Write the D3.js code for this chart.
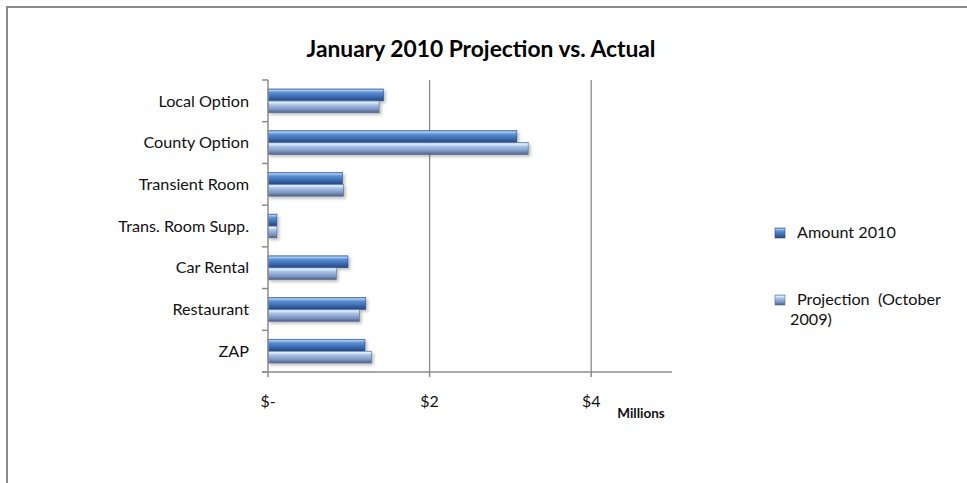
<!DOCTYPE html>
<html><head><meta charset="utf-8">
<script src="https://cdn.jsdelivr.net/npm/d3@7"></script>
<style>html,body{margin:0;padding:0;background:#fff;overflow:hidden}</style>
</head><body><svg id="c" width="967" height="483"></svg>
<script>
const categories = ["Local Option","County Option","Transient Room","Trans. Room Supp.","Car Rental","Restaurant","ZAP"];
const amount2010 = [1.43,3.08,0.92,0.11,0.99,1.21,1.20];
const projection = [1.375,3.22,0.935,0.11,0.845,1.13,1.28];
const seriesNames = ["Amount 2010","Projection  (October 2009)"];
const xTicks = [0,2,4];
const xTickLabels = ["$-","$2","$4"];

(function(){
const svg = d3.select("#c");
const font = "Lato, 'Open Sans', sans-serif";
const defs = svg.append("defs");
function grad(id, stops){
  const g = defs.append("linearGradient").attr("id",id).attr("x1",0).attr("y1",0).attr("x2",0).attr("y2",1);
  stops.forEach(s=>g.append("stop").attr("offset",s[0]).attr("stop-color",s[1]));
}
grad("gA",[[0,"#6d9ad6"],[0.12,"#a9c9f0"],[0.3,"#5c8fd4"],[0.65,"#3b6cb3"],[1,"#24467c"]]);
grad("gP",[[0,"#9fbce6"],[0.12,"#e2f0fd"],[0.32,"#a9c4ea"],[0.7,"#7f97c2"],[1,"#4e6188"]]);
const f = defs.append("filter").attr("id","sh").attr("x","-5%").attr("y","-30%").attr("width","115%").attr("height","180%");
f.append("feDropShadow").attr("dx",2).attr("dy",2).attr("stdDeviation",1.5).attr("flood-color","#000").attr("flood-opacity",0.25);

svg.append("rect").attr("x",7).attr("y",7).attr("width",1000).attr("height",520)
  .attr("fill","none").attr("stroke","#8a8a8a").attr("stroke-width",2);

const pL=268, pR=672, pT=80, pB=372;
const x = d3.scaleLinear().domain([0,5]).range([pL,pR]);
const y = d3.scaleBand().domain(categories).range([pT,pB]).paddingInner(0.43).paddingOuter(0.215);
const ySub = d3.scaleBand().domain([0,1]).range([0,y.bandwidth()]);

svg.append("text").attr("x",481).attr("y",57).attr("text-anchor","middle")
  .attr("font-family",font).attr("font-weight","bold").attr("font-size",22.8).attr("fill","#000")
  .text("January 2010 Projection vs. Actual");

svg.append("g").selectAll("line").data(xTicks.filter(d=>d>0)).join("line")
  .attr("x1",d=>x(d)).attr("x2",d=>x(d)).attr("y1",pT).attr("y2",pB)
  .attr("stroke","#8c8c8c").attr("stroke-width",1.3);

const data = categories.map((c,i)=>({c, v:[amount2010[i],projection[i]]}));
const gBars = svg.append("g").attr("filter","url(#sh)");
data.forEach(d=>{
  d.v.forEach((v,k)=>{
    gBars.append("rect").attr("x",x(0)).attr("y",y(d.c)+ySub(k))
      .attr("width",x(v)-x(0)).attr("height",ySub.bandwidth())
      .attr("fill",k===0?"url(#gA)":"url(#gP)")
      .attr("stroke",k===0?"#2a4f86":"#56698f").attr("stroke-width",0.6);
  });
});

const yAxis = svg.append("g").attr("transform",`translate(${pL},0)`);
yAxis.append("line").attr("x1",0).attr("x2",0).attr("y1",pT).attr("y2",pB).attr("stroke","#8c8c8c").attr("stroke-width",1.5);
const bounds = d3.range(categories.length+1).map(i=>pT+i*(pB-pT)/categories.length);
yAxis.selectAll("line.t").data(bounds).join("line").attr("class","t")
  .attr("x1",-6).attr("x2",0).attr("y1",d=>d).attr("y2",d=>d).attr("stroke","#8c8c8c").attr("stroke-width",1.5);
yAxis.selectAll("text").data(categories).join("text")
  .attr("x",-19).attr("y",c=>y(c)+y.bandwidth()/2).attr("dy","0.35em").attr("text-anchor","end")
  .attr("font-family",font).attr("font-size",16.2).attr("fill","#111").text(c=>c);

const xAxis = svg.append("g").attr("transform",`translate(0,${pB})`);
xAxis.append("line").attr("x1",pL-6).attr("x2",pR).attr("y1",0).attr("y2",0).attr("stroke","#8c8c8c").attr("stroke-width",1.5);
xAxis.selectAll("line.t").data(xTicks).join("line").attr("class","t")
  .attr("x1",d=>x(d)).attr("x2",d=>x(d)).attr("y1",0).attr("y2",5).attr("stroke","#8c8c8c").attr("stroke-width",1.5);
xAxis.selectAll("text").data(xTicks).join("text")
  .attr("x",d=>x(d)).attr("y",35).attr("text-anchor","middle")
  .attr("font-family",font).attr("font-size",16).attr("fill","#111").text((d,i)=>xTickLabels[i]);
svg.append("text").attr("x",641).attr("y",418).attr("text-anchor","middle")
  .attr("font-family",font).attr("font-weight","bold").attr("font-size",13.5).attr("fill","#111").text("Millions");

const lg = svg.append("g");
const lItems = [{y:233, g:"url(#gA)", s:"#2a4f86", lines:["Amount 2010"]},
                {y:300, g:"url(#gP)", s:"#56698f", lines:["Projection  (October","2009)"]}];
lItems.forEach((it,i)=>{
  lg.append("rect").attr("x",775).attr("y",it.y-5).attr("width",10).attr("height",10)
    .attr("fill",it.g).attr("stroke",it.s).attr("stroke-width",0.6);
  it.lines.forEach((t,j)=>{
    lg.append("text").attr("x",j===0?797:790).attr("y",it.y+5+j*20)
      .attr("font-family",font).attr("font-size",16.2).attr("fill","#111").style("white-space","pre").text(t);
  });
});
})();
</script></body></html>
